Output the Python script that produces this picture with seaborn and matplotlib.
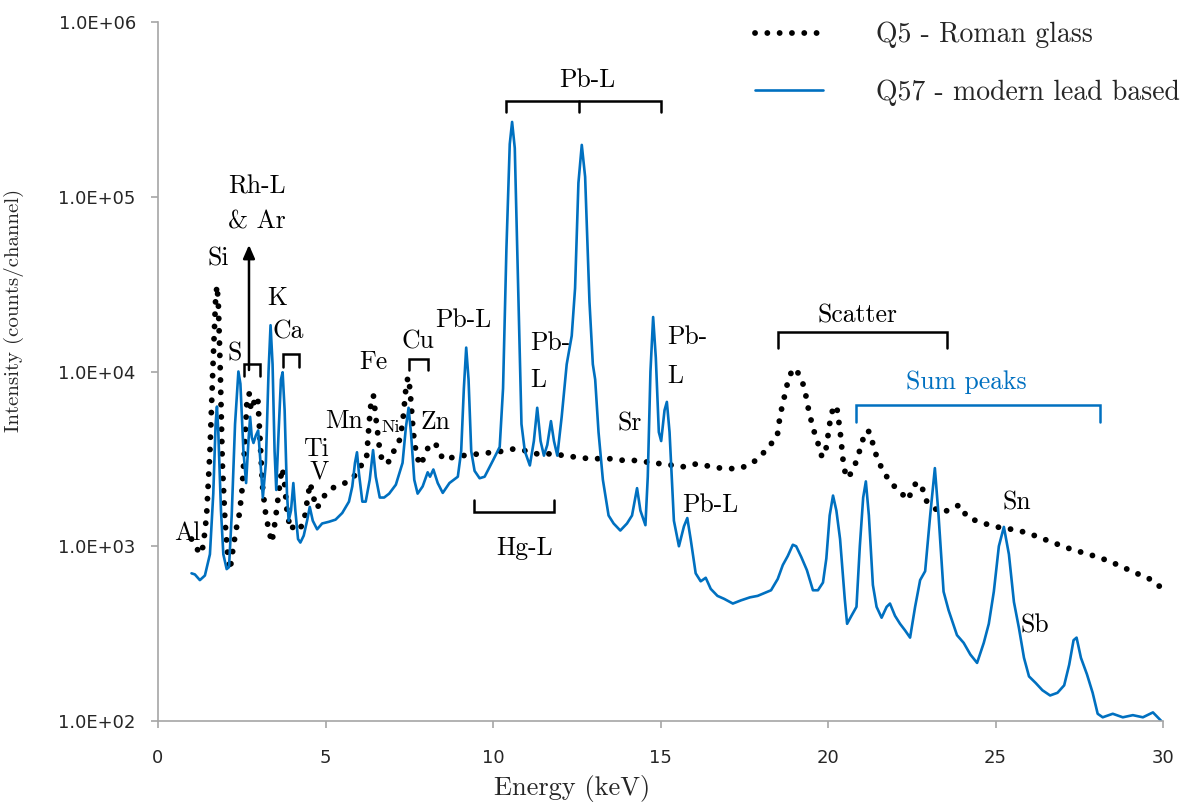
import matplotlib
matplotlib.use("Agg")
import matplotlib.pyplot as plt
from matplotlib.ticker import NullLocator, FixedLocator, FixedFormatter
import seaborn as sns
import pandas as pd

# ---------------- data ----------------
q57_energy = [1.00, 1.10, 1.25, 1.40, 1.55, 1.65, 1.72, 1.76, 1.80, 1.88, 1.95, 2.05, 2.12, 2.20, 2.30,
              2.40, 2.46, 2.55, 2.63, 2.70, 2.75, 2.80, 2.85, 2.92, 2.99, 3.05, 3.13, 3.22, 3.30, 3.36,
              3.42, 3.48, 3.53, 3.60, 3.67, 3.72, 3.78, 3.85, 3.90, 3.97, 4.04, 4.10, 4.18, 4.25, 4.35,
              4.45, 4.53, 4.62, 4.75, 4.90, 5.10, 5.30, 5.50, 5.70, 5.80, 5.88, 5.94, 6.00, 6.10, 6.20,
              6.32, 6.42, 6.50, 6.62, 6.75, 6.90, 7.10, 7.30, 7.40, 7.48, 7.55, 7.65, 7.75, 7.90, 8.05,
              8.12, 8.22, 8.35, 8.50, 8.70, 8.95, 9.05, 9.13, 9.20, 9.27, 9.35, 9.45, 9.60, 9.75, 10.00,
              10.20, 10.30, 10.40, 10.50, 10.57, 10.65, 10.75, 10.85, 10.95, 11.10, 11.22, 11.32, 11.42,
              11.52, 11.62, 11.73, 11.82, 11.92, 12.05, 12.20, 12.35, 12.45, 12.55, 12.65, 12.75, 12.88,
              12.98, 13.05, 13.15, 13.28, 13.45, 13.60, 13.80, 14.00, 14.15, 14.30, 14.40, 14.55, 14.62,
              14.70, 14.78, 14.86, 14.95, 15.02, 15.12, 15.19, 15.27, 15.40, 15.55, 15.70, 15.80, 15.90,
              16.05, 16.20, 16.35, 16.50, 16.70, 16.90, 17.16, 17.40, 17.67, 17.90, 18.10, 18.30, 18.50,
              18.65, 18.80, 18.95, 19.05, 19.20, 19.37, 19.55, 19.70, 19.85, 19.95, 20.05, 20.15, 20.25,
              20.36, 20.50, 20.57, 20.70, 20.85, 20.95, 21.05, 21.13, 21.22, 21.34, 21.45, 21.60, 21.75,
              21.85, 22.00, 22.15, 22.30, 22.45, 22.60, 22.75, 22.90, 23.05, 23.19, 23.30, 23.45, 23.60,
              23.85, 24.05, 24.25, 24.45, 24.65, 24.80, 24.95, 25.10, 25.25, 25.40, 25.55, 25.70, 25.85,
              26.00, 26.20, 26.40, 26.63, 26.85, 27.05, 27.20, 27.33, 27.42, 27.55, 27.73, 27.90, 28.05,
              28.20, 28.50, 28.80, 29.10, 29.40, 29.70, 29.95]
q57_counts = [700, 690, 640, 680, 900, 2000, 5000, 6300, 4500, 1600, 900, 740, 760, 1500, 5000,
              10000, 8500, 3500, 2300, 4000, 5500, 4200, 3900, 4300, 4600, 3200, 1900, 3000, 10000, 18400,
              11000, 3500, 2100, 4500, 9000, 9900, 6000, 2000, 1400, 1600, 2300, 1600, 1100, 1050, 1150,
              1400, 1680, 1400, 1250, 1350, 1380, 1420, 1550, 1800, 2200, 3000, 3450, 2600, 1800, 1800,
              2400, 3550, 2500, 1900, 1900, 2000, 2250, 3000, 4800, 6200, 4500, 2400, 2000, 2200, 2650,
              2500, 2750, 2300, 2020, 2300, 2500, 3500, 8000, 13700, 9000, 3500, 2700, 2450, 2500, 3100,
              3700, 8000, 50000, 200000, 268000, 190000, 30000, 5000, 3500, 2900, 4000, 6200, 4000,
              3300, 3800, 5200, 4000, 3300, 5500, 11000, 16000, 30000, 120000, 198000, 130000, 25000,
              11000, 9000, 4500, 2400, 1500, 1350, 1230, 1350, 1500, 2150, 1600, 1320, 2500,
              10000, 20500, 12000, 4500, 4000, 6000, 6700, 4500, 1400, 1000, 1300, 1450, 1100,
              700, 630, 660, 570, 520, 500, 470, 490, 510, 520, 540, 560, 650,
              780, 880, 1020, 1000, 870, 730, 560, 560, 620, 850, 1500, 1950, 1600,
              1100, 500, 360, 400, 450, 1000, 1900, 2350, 1500, 600, 450, 390, 450,
              470, 400, 360, 330, 300, 450, 640, 720, 1500, 2800, 1500, 550, 430,
              310, 280, 240, 215, 280, 360, 550, 1000, 1290, 900, 480, 340, 230,
              180, 165, 150, 140, 145, 160, 210, 290, 300, 230, 185, 145, 110,
              105, 110, 105, 108, 105, 112, 100]

q5_energy = [1.00, 1.05, 1.15, 1.25, 1.35, 1.45, 1.55, 1.65, 1.72, 1.76, 1.80, 1.86, 1.92, 2.00, 2.08,
             2.15, 2.25, 2.35, 2.42, 2.50, 2.58, 2.65, 2.72, 2.78, 2.85, 2.92, 2.98, 3.05, 3.12, 3.20,
             3.30, 3.40, 3.50, 3.60, 3.70, 3.76, 3.85, 3.95, 4.05, 4.15, 4.25, 4.35, 4.45, 4.54, 4.62,
             4.72, 4.85, 5.00, 5.20, 5.45, 5.70, 5.85, 5.95, 6.10, 6.22, 6.30, 6.37, 6.43, 6.50, 6.60,
             6.70, 6.82, 6.95, 7.10, 7.20, 7.30, 7.40, 7.46, 7.52, 7.62, 7.72, 7.85, 7.95, 8.10, 8.25,
             8.35, 8.50, 8.70, 8.90, 9.10, 9.40, 9.70, 10.00, 10.30, 10.60, 10.90, 11.20, 11.50, 11.80,
             12.10, 12.40, 12.70, 13.00, 13.30, 13.60, 13.90, 14.20, 14.50, 14.80, 15.10, 15.40, 15.70,
             16.00, 16.20, 16.50, 16.80, 17.16, 17.40, 17.67, 17.90, 18.06, 18.27, 18.48, 18.57, 18.72,
             18.81, 18.95, 19.05, 19.18, 19.30, 19.40, 19.55, 19.67, 19.82, 19.92, 20.00, 20.08, 20.18,
             20.27, 20.36, 20.45, 20.54, 20.68, 20.80, 20.92, 21.04, 21.15, 21.25, 21.40, 21.60, 21.85,
             22.15, 22.39, 22.55, 22.66, 22.80, 22.95, 23.10, 23.30, 23.50, 23.75, 23.94, 24.15, 24.50,
             24.84, 25.20, 25.64, 26.12, 26.60, 27.13, 27.60, 28.12, 28.60, 29.10, 29.60, 30.00]
q5_counts = [1100, 1050, 980, 900, 1000, 1500, 3500, 12000, 26000, 31000, 25000, 10000, 3000, 1400, 900,
             730, 1000, 1300, 1500, 2000, 3500, 6500, 7500, 6000, 6500, 7200, 7000, 4000, 2200, 1600,
             1250, 1050, 1400, 2000, 2800, 2500, 1600, 1240, 1300, 1350, 1280, 1350, 1800, 2300, 2000,
             1650, 1750, 2000, 2150, 2250, 2350, 2500, 2730, 2950, 3100, 5000, 7000, 7300, 5500, 3800,
             3000, 3000, 3100, 3800, 4000, 5000, 8000, 9300, 8000, 4500, 3250, 2900, 3300, 3800, 3900,
             3700, 3150, 3200, 3250, 3300, 3350, 3400, 3450, 3500, 3600, 3550, 3400, 3350, 3400,
             3300, 3250, 3200, 3150, 3200, 3150, 3100, 3100, 3050, 3000, 2950, 2900, 2850,
             2950, 2950, 2850, 2800, 2780, 2800, 2950, 3150, 3400, 3800, 4200, 5600, 7500,
             8900, 10400, 10200, 9300, 8000, 6300, 4750, 4070, 3240, 3400, 4300, 5500, 6400,
             6100, 4600, 3100, 2460, 2600, 2900, 3400, 4070, 4600, 4500, 3470, 2800, 2330,
             2050, 1840, 2200, 2330, 2190, 1800, 1720, 1570, 1580, 1680, 1720, 1470, 1380,
             1320, 1270, 1240, 1160, 1070, 980, 920, 860, 790, 715, 650, 570]

series_labels = ["Q5 - Roman glass", "Q57 - modern lead based"]
y_tick_values = [1e2, 1e3, 1e4, 1e5, 1e6]
y_tick_labels = ["1.0E+02", "1.0E+03", "1.0E+04", "1.0E+05", "1.0E+06"]
x_tick_values = [0, 5, 10, 15, 20, 25, 30]

BLUE = "#0070C0"

# ---------------- style ----------------
sns.set_style("ticks")
plt.rcParams["font.family"] = ["cmr10", "DejaVu Serif"]
plt.rcParams["axes.formatter.use_mathtext"] = True

fig = plt.figure(figsize=(12, 8.05), dpi=100)
ax = fig.add_axes([158 / 1200, 1 - 721 / 805, 1005 / 1200, 699 / 805])

df5 = pd.DataFrame({"E": q5_energy, "I": q5_counts})
df57 = pd.DataFrame({"E": q57_energy, "I": q57_counts})

sns.lineplot(data=df5, x="E", y="I", ax=ax, color="black", linewidth=4.2,
             linestyle=(0, (0.01, 2.1)), dash_capstyle="round", label=series_labels[0])
sns.lineplot(data=df57, x="E", y="I", ax=ax, color=BLUE, linewidth=1.9,
             label=series_labels[1])

ax.set_yscale("log")
ax.set_xlim(0, 30)
ax.set_ylim(100, 1e6)
ax.yaxis.set_major_locator(FixedLocator(y_tick_values))
ax.yaxis.set_major_formatter(FixedFormatter(y_tick_labels))
ax.yaxis.set_minor_locator(NullLocator())
ax.set_xticks(x_tick_values)
ax.set_xticklabels([str(v) for v in x_tick_values])

for s in ["top", "right"]:
    ax.spines[s].set_visible(False)
for s in ["left", "bottom"]:
    ax.spines[s].set_color("#A6A6A6")
    ax.spines[s].set_linewidth(1.2)
ax.tick_params(axis="both", which="major", color="#A6A6A6", length=5, width=1.2,
               direction="out", labelsize=13)
ax.tick_params(axis="x", pad=15)
ax.tick_params(axis="y", pad=11)
for lab in ax.get_xticklabels() + ax.get_yticklabels():
    lab.set_family("DejaVu Sans")

ax.set_xlabel("Energy (keV)", fontsize=19)
ax.xaxis.set_label_coords(0.412, -0.077)
ax.set_ylabel("Intensity (counts/channel)", fontsize=15)
ax.yaxis.set_label_coords(-0.133, 0.588)

# legend
leg = ax.legend(loc="upper left", bbox_to_anchor=(755 / 1200, 1 - 22 / 805),
                bbox_transform=fig.transFigure, frameon=False, fontsize=20,
                handlelength=2.45, handletextpad=1.9, labelspacing=1.1,
                borderpad=0, borderaxespad=0)

# ---------------- annotations ----------------
fs = 18.5
def txt(x, y, s, size=fs, color="black", ha="center"):
    ax.text(x, y, s, fontsize=size, color=color, ha=ha, va="center")

txt(0.866, 1190, "Al")
txt(1.79, 44000, "Si")
txt(2.955, 115000, "Rh-L")
txt(2.955, 71700, "& Ar")
txt(2.30, 12600, "S")
txt(3.55, 26400, "K")
txt(3.88, 16800, "Ca")
txt(4.72, 3600, "Ti")
txt(4.81, 2660, "V")
txt(5.55, 5210, "Mn")
txt(6.42, 11300, "Fe")
txt(6.96, 4810, "Ni", size=13)
txt(7.76, 14750, "Cu")
txt(8.27, 5140, "Zn")
txt(9.10, 19700, "Pb-L")
txt(12.81, 466000, "Pb-L")
txt(11.10, 14550, "Pb-", ha="left")
txt(11.10, 8930, "L", ha="left")
txt(15.19, 15700, "Pb-", ha="left")
txt(15.19, 9420, "L", ha="left")
txt(14.09, 5010, "Sr")
txt(10.93, 977, "Hg-L")
txt(16.48, 1720, "Pb-L")
txt(20.87, 20800, "Scatter")
txt(24.12, 8710, "Sum peaks", color=BLUE)
txt(25.64, 1770, "Sn")
txt(26.18, 350, "Sb")

ax.annotate("", xy=(2.716, 53000), xytext=(2.716, 10200),
            arrowprops=dict(arrowstyle="-|>,head_width=0.35,head_length=0.8",
                            color="black", lw=1.8, shrinkA=0, shrinkB=0))

def bracket(x0, x1, ybar, yleg, color="black", mid=None):
    ax.plot([x0, x0, x1, x1], [yleg, ybar, ybar, yleg], color=color, lw=1.8,
            solid_joinstyle="miter")
    if mid is not None:
        ax.plot([mid, mid], [ybar, yleg], color=color, lw=1.8)

bracket(2.57, 3.04, 11040, 9420)
bracket(3.73, 4.21, 12600, 10600)
bracket(7.49, 8.06, 11800, 10200)
bracket(10.39, 15.01, 353000, 305000, mid=12.57)
bracket(9.43, 11.82, 1570, 1840)
bracket(18.51, 23.55, 16800, 13640)
bracket(20.84, 28.12, 6430, 5140, color=BLUE)

fig.savefig("out.png", dpi=100)
